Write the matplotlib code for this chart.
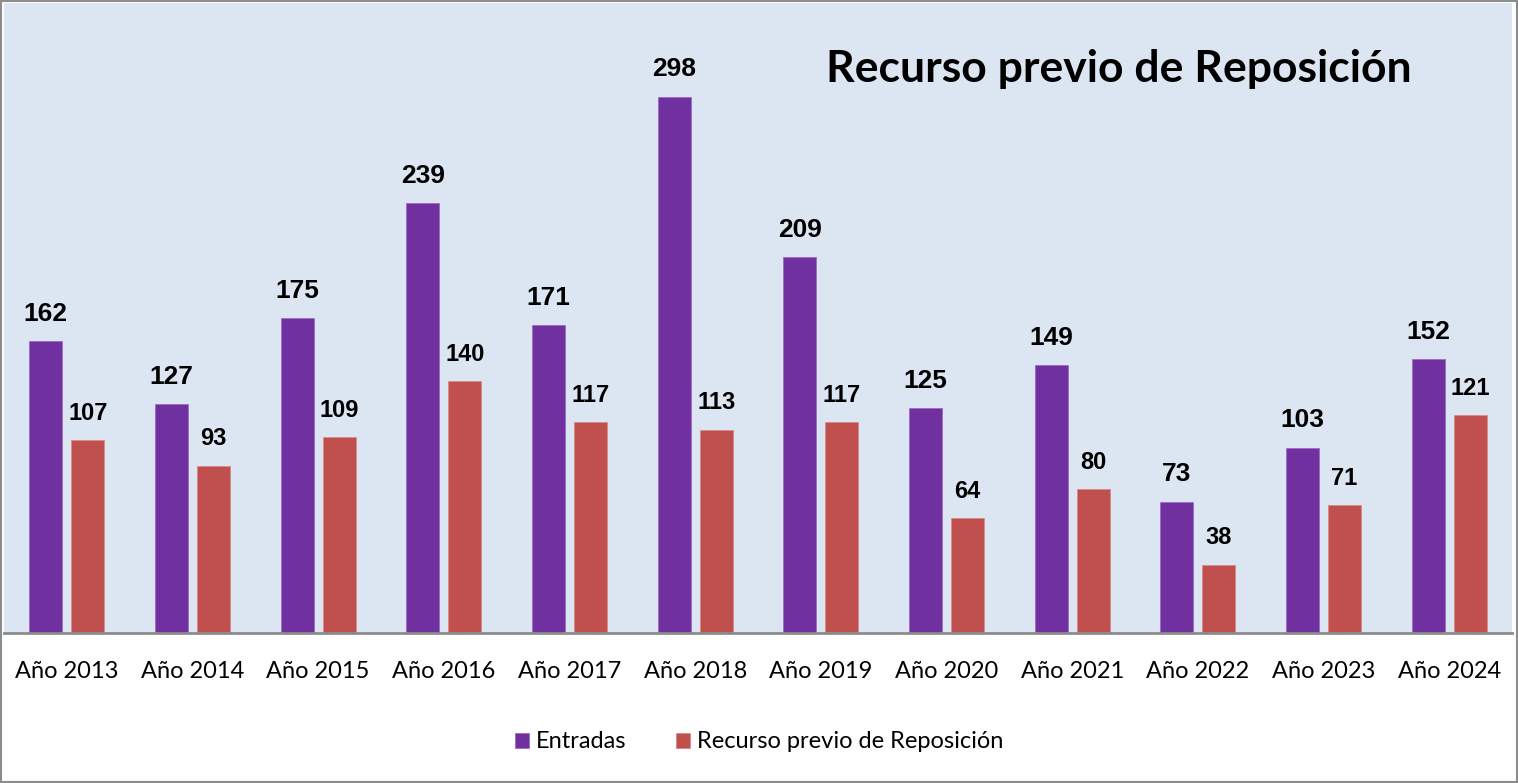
import matplotlib
matplotlib.use("Agg")
import matplotlib.pyplot as plt
import numpy as np

# datos
years = ["Año 2013", "Año 2014", "Año 2015", "Año 2016", "Año 2017", "Año 2018",
         "Año 2019", "Año 2020", "Año 2021", "Año 2022", "Año 2023", "Año 2024"]
entradas = [162, 127, 175, 239, 171, 298, 209, 125, 149, 73, 103, 152]
recurso = [107, 93, 109, 140, 117, 113, 117, 64, 80, 38, 71, 121]

c_purple = "#7030A0"
c_red = "#C0504D"

fig = plt.figure(figsize=(15.18, 7.83), dpi=100)
ax = fig.add_axes([4 / 1518, 150 / 783, 1508 / 1518, 630 / 783])
ax.set_facecolor("#DCE6F2")

x = np.arange(len(years))
w = 0.263
off = 0.167
b1 = ax.bar(x - off, entradas, w, color=c_purple, edgecolor="#9D6CC4", linewidth=0.6,
            label="Entradas")
b2 = ax.bar(x + off, recurso, w, color=c_red, edgecolor="#D98A88", linewidth=0.6,
            label="Recurso previo de Reposición")

for rect, v in zip(b1, entradas):
    ax.annotate(str(v), (rect.get_x() + rect.get_width() / 2, v), xytext=(0, 11),
                textcoords="offset points", ha="center", va="bottom",
                fontsize=19, fontweight="bold", family="Liberation Sans")
for rect, v in zip(b2, recurso):
    ax.annotate(str(v), (rect.get_x() + rect.get_width() / 2, v), xytext=(0, 11),
                textcoords="offset points", ha="center", va="bottom",
                fontsize=17, fontweight="bold", family="Liberation Sans")

ax.set_xlim(-0.5, len(years) - 0.5)
ax.set_ylim(0, 350)
ax.set_yticks([])
ax.set_xticks(x)
ax.set_xticklabels(years, fontsize=17, family="Lato")
ax.tick_params(axis="x", length=0, pad=20)
for s in ["top", "right", "left"]:
    ax.spines[s].set_visible(False)
ax.spines["bottom"].set_color("#8C8C8C")
ax.spines["bottom"].set_linewidth(2)

ax.text(0.739, 0.895, "Recurso previo de Reposición", transform=ax.transAxes,
        ha="center", va="center", fontsize=32, fontweight="bold", family="Lato")

fig.legend(handles=[b1, b2], loc="center", bbox_to_anchor=(0.5, 41 / 783), ncol=2,
           frameon=False, prop={"family": "Lato", "size": 17}, handlelength=0.6,
           handleheight=0.6, handletextpad=0.3, columnspacing=2.1)

# marco
fig.patches.append(plt.Rectangle((0.5 / 1518, 1 / 783), 1516 / 1518, 781 / 783,
                                 transform=fig.transFigure, fill=False,
                                 edgecolor="#8C8C8C", linewidth=1.5))

fig.savefig("out.png", dpi=100)
